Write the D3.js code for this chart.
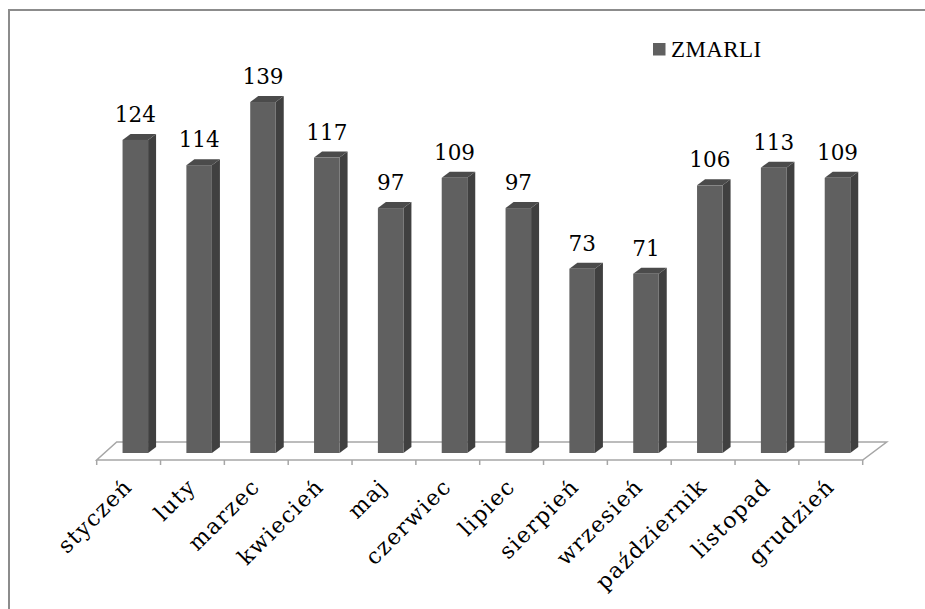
<!DOCTYPE html>
<html>
<head>
<meta charset="utf-8">
<script src="https://cdn.jsdelivr.net/npm/d3@7"></script>
<style>
  body { margin: 0; background: #fff; }
  svg { display: block; }
</style>
</head>
<body>
<script>
var months = ['styczeń', 'luty', 'marzec', 'kwiecień', 'maj', 'czerwiec',
              'lipiec', 'sierpień', 'wrzesień', 'październik', 'listopad', 'grudzień'];
var zmarli = [124, 114, 139, 117, 97, 109, 97, 73, 71, 106, 113, 109];
var seriesName = 'ZMARLI';

var width = 925;
var height = 609;
var floorY = 460;     // front edge of the 3D floor
var baseY = 453;      // where the bars stand
var floorDepth = { x: 22, y: -18 };
var barDepth = { x: 8, y: -6 };

var svg = d3.select('body')
            .append('svg')
            .attr('width', width)
            .attr('height', height);

// chart area border (only top and left are inside the picture)
svg.append('path')
    .attr('d', 'M9,609 L9,10 L925,10')
    .attr('fill', 'none')
    .attr('stroke', '#8c8c8c')
    .attr('stroke-width', 2);

var xScale = d3.scaleBand()
                .domain(months)
                .range([96.7, 862.7])
                .padding(0);

var yScale = d3.scaleLinear()
                .domain([0, 160])
                .range([baseY, baseY - 160 * 2.525]);

var x0 = xScale.range()[0];
var x1 = xScale.range()[1];

// floor
svg.append('path')
    .attr('d', `M${x0},${floorY} L${x1},${floorY} L${x1 + floorDepth.x + 2},${floorY + floorDepth.y} L${x0 + floorDepth.x - 2},${floorY + floorDepth.y} Z`)
    .attr('fill', 'none')
    .attr('stroke', '#a6a6a6')
    .attr('stroke-width', 1.5);

// ticks at band boundaries
var bounds = months.map(function (m) { return xScale(m); }).concat([x1]);
svg.selectAll('line.tick')
    .data(bounds)
    .enter()
    .append('line')
    .attr('class', 'tick')
    .attr('x1', function (d) { return d; })
    .attr('x2', function (d) { return d; })
    .attr('y1', floorY)
    .attr('y2', floorY + 5)
    .attr('stroke', '#a6a6a6')
    .attr('stroke-width', 1.5);

var bw = xScale.bandwidth();
function frontX(d, i) { return xScale(months[i]) + bw * 0.405; }
var frontW = bw * 0.4;

var bars = svg.selectAll('g.bar')
              .data(zmarli)
              .enter()
              .append('g')
              .attr('class', 'bar');

// side face
bars.append('path')
    .attr('fill', '#404040')
    .attr('d', function (d, i) {
      var x = frontX(d, i) + frontW, yt = yScale(d);
      return `M${x},${baseY} L${x},${yt} L${x + barDepth.x},${yt + barDepth.y} L${x + barDepth.x},${baseY + barDepth.y} Z`;
    });

// top face
bars.append('path')
    .attr('fill', '#4b4b4b')
    .attr('d', function (d, i) {
      var x = frontX(d, i), yt = yScale(d);
      return `M${x},${yt} L${x + frontW},${yt} L${x + frontW + barDepth.x},${yt + barDepth.y} L${x + barDepth.x},${yt + barDepth.y} Z`;
    });

// front face
bars.append('rect')
    .attr('fill', '#606060')
    .attr('x', function (d, i) { return frontX(d, i); })
    .attr('y', function (d) { return yScale(d); })
    .attr('width', frontW)
    .attr('height', function (d) { return baseY - yScale(d); });

// value labels
bars.append('text')
    .attr('x', function (d, i) { return frontX(d, i) + frontW / 2; })
    .attr('y', function (d) { return yScale(d) - 18; })
    .attr('text-anchor', 'middle')
    .style('font-family', '"DejaVu Serif", serif')
    .style('font-size', '21.5px')
    .attr('fill', '#000')
    .text(function (d) { return d; });

// category labels
svg.selectAll('text.cat')
    .data(months)
    .enter()
    .append('text')
    .attr('class', 'cat')
    .attr('text-anchor', 'end')
    .attr('transform', function (d) {
      return `translate(${xScale(d) + bw / 2 + 5},${488}) rotate(-45)`;
    })
    .style('font-family', '"DejaVu Serif", serif')
    .style('font-size', '22px')
    .style('letter-spacing', '1.5px')
    .attr('fill', '#000')
    .text(function (d) { return d; });

// legend
var legend = svg.append('g').attr('transform', 'translate(653,43)');
legend.append('rect')
    .attr('width', 12.5)
    .attr('height', 12.5)
    .attr('fill', '#606060');
legend.append('text')
    .attr('x', 18)
    .attr('y', 13.5)
    .style('font-family', '"Liberation Serif", serif')
    .style('font-size', '23px')
    .style('letter-spacing', '0.4px')
    .attr('fill', '#000')
    .text(seriesName);
</script>
</body>
</html>
